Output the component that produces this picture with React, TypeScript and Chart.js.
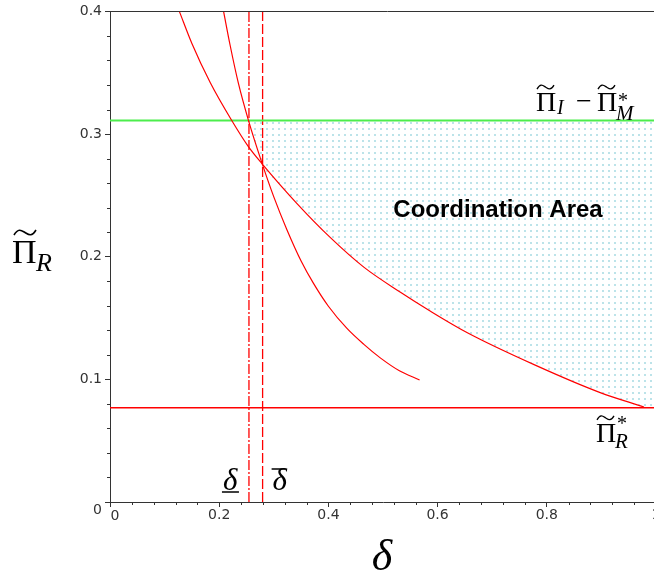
import React, { useEffect, useRef } from 'react';
import { Chart, registerables } from 'chart.js';

Chart.register(...registerables);

// ---- data ----
const xMajorTicks = [0, 0.2, 0.4, 0.6, 0.8, 1];
const yMajorTicks = [0, 0.1, 0.2, 0.3, 0.4];
const xMinorTicks = [0.04, 0.08, 0.12, 0.16, 0.24, 0.28, 0.32, 0.36, 0.44, 0.48, 0.52, 0.56, 0.64, 0.68, 0.72, 0.76, 0.84, 0.88, 0.92, 0.96];
const yMinorTicks = [0.02, 0.04, 0.06, 0.08, 0.12, 0.14, 0.16, 0.18, 0.22, 0.24, 0.26, 0.28, 0.32, 0.34, 0.36, 0.38];

// steeper curve
const curveAX = [0.208, 0.22, 0.235, 0.2537, 0.279, 0.30, 0.324, 0.35, 0.373, 0.40, 0.434, 0.465, 0.495, 0.53, 0.567];
const curveAY = [0.4, 0.3724, 0.3417, 0.311, 0.2755, 0.2488, 0.222, 0.1965, 0.178, 0.1596, 0.1415, 0.1285, 0.1175, 0.107, 0.0995];

// flatter curve
const curveBX = [0.127, 0.15, 0.1835, 0.223, 0.2538, 0.279, 0.3425, 0.4037, 0.4648, 0.532, 0.587, 0.6545, 0.7767, 0.899, 0.978];
const curveBY = [0.4, 0.3738, 0.342, 0.311, 0.2895, 0.2755, 0.2433, 0.2155, 0.1915, 0.171, 0.1555, 0.138, 0.112, 0.089, 0.0775];

// lower boundary of the coordination area
const areaX = [0.2537, 0.279, 0.3425, 0.4037, 0.4648, 0.532, 0.587, 0.6545, 0.7767, 0.899, 0.978, 1];
const areaY = [0.311, 0.2755, 0.2433, 0.2155, 0.1915, 0.171, 0.1555, 0.138, 0.112, 0.089, 0.0775, 0.0768];

const levelTop = 0.311; // Π̃_I − Π̃*_M
const levelBottom = 0.0768; // Π̃*_R
const deltaLow = 0.2545;
const deltaHigh = 0.2795;

const areaLabel = 'Coordination Area';

const pts = (xs: number[], ys: number[]) => xs.map((x, i) => ({ x, y: ys[i] }));
const fmt = (v: number) => {
  const r = Math.round(v * 10) / 10;
  return r === 0 ? '' : String(r);
};

function drawTilde(ctx: CanvasRenderingContext2D, x0: number, cy: number, w: number, h: number, lw = 1.3) {
  ctx.save();
  ctx.lineWidth = lw;
  ctx.strokeStyle = '#000';
  ctx.beginPath();
  ctx.moveTo(x0, cy + h / 2);
  ctx.bezierCurveTo(x0 + w * 0.2, cy - h, x0 + w * 0.35, cy - h * 0.4, x0 + w * 0.5, cy);
  ctx.bezierCurveTo(x0 + w * 0.65, cy + h * 0.4, x0 + w * 0.8, cy + h, x0 + w, cy - h / 2);
  ctx.stroke();
  ctx.restore();
}

const SERIF = '"Liberation Serif", "DejaVu Serif", serif';

const decor = {
  id: 'decor',
  afterDraw(chart: any) {
    const { ctx, chartArea: ca, scales } = chart;
    const xs = scales.x;
    const ys = scales.y;
    ctx.save();
    // top frame line
    ctx.strokeStyle = '#333';
    ctx.lineWidth = 1;
    ctx.beginPath();
    ctx.moveTo(ca.left, Math.round(ca.top) + 0.5);
    ctx.lineTo(ca.right + 10, Math.round(ca.top) + 0.5);
    ctx.stroke();
    // minor ticks
    ctx.beginPath();
    for (const v of xMinorTicks) {
      const px = Math.round(xs.getPixelForValue(v)) + 0.5;
      ctx.moveTo(px, ca.bottom);
      ctx.lineTo(px, ca.bottom + 3);
    }
    for (const v of yMinorTicks) {
      const py = Math.round(ys.getPixelForValue(v)) + 0.5;
      ctx.moveTo(ca.left, py);
      ctx.lineTo(ca.left - 3, py);
    }
    ctx.stroke();
    // zero labels
    ctx.fillStyle = '#333';
    ctx.font = '14px "DejaVu Sans"';
    ctx.textBaseline = 'middle';
    ctx.textAlign = 'right';
    ctx.fillText('0', ca.left - 8, ys.getPixelForValue(0) + 8);
    ctx.textAlign = 'left';
    ctx.fillText('0', xs.getPixelForValue(0) + 0.5, ca.bottom + 14);

    ctx.fillStyle = '#000';
    ctx.textBaseline = 'alphabetic';
    ctx.textAlign = 'left';

    // label: Π̃_I − Π̃*_M
    const gy = ys.getPixelForValue(levelTop);
    const b1 = gy - 9.5;
    ctx.font = `28px ${SERIF}`;
    ctx.fillText('Π', 536, b1);
    drawTilde(ctx, 537, b1 - 24, 17, 4);
    ctx.font = `italic 20px ${SERIF}`;
    ctx.fillText('I', 557, b1 + 3);
    ctx.font = `28px ${SERIF}`;
    ctx.fillText('−', 576, b1 - 1);
    ctx.fillText('Π', 597, b1);
    drawTilde(ctx, 598, b1 - 24, 17, 4);
    ctx.font = `20px ${SERIF}`;
    ctx.fillText('*', 618, b1 - 4);
    ctx.font = `italic 21px ${SERIF}`;
    ctx.fillText('M', 616, b1 + 9);

    // label: Π̃*_R
    const ry = ys.getPixelForValue(levelBottom);
    const b2 = ry + 34;
    ctx.font = `28px ${SERIF}`;
    ctx.fillText('Π', 596, b2);
    drawTilde(ctx, 597, b2 - 24, 17, 4);
    ctx.font = `20px ${SERIF}`;
    ctx.fillText('*', 617, b2 - 12);
    ctx.font = `italic 21px ${SERIF}`;
    ctx.fillText('R', 615, b2 + 6);

    // δ underlined / overlined
    const dl = xs.getPixelForValue(deltaLow);
    const dh = xs.getPixelForValue(deltaHigh);
    ctx.font = `italic 31px ${SERIF}`;
    ctx.fillText('δ', dl - 26, ca.bottom - 12);
    ctx.fillText('δ', dh + 10, ca.bottom - 12);
    ctx.lineWidth = 1.6;
    ctx.strokeStyle = '#000';
    ctx.beginPath();
    ctx.moveTo(dl - 27, ca.bottom - 10);
    ctx.lineTo(dl - 10, ca.bottom - 10);
    ctx.moveTo(dh + 9, ca.bottom - 33);
    ctx.lineTo(dh + 23, ca.bottom - 33);
    ctx.stroke();

    // y-axis title Π̃_R
    ctx.font = `34px ${SERIF}`;
    ctx.fillText('Π', 12, 263);
    drawTilde(ctx, 14, 232.5, 22, 5, 1.6);
    ctx.font = `italic 26px ${SERIF}`;
    ctx.fillText('R', 36, 271);

    // x-axis title δ
    ctx.font = `italic 44px ${SERIF}`;
    ctx.textAlign = 'center';
    ctx.fillText('δ', 382, 570);

    // area label
    ctx.font = 'bold 24px "Liberation Sans", Arial, sans-serif';
    ctx.textAlign = 'center';
    ctx.fillText(areaLabel, 498, 217);
    ctx.restore();
  },
};

export default function App() {
  const ref = useRef<HTMLCanvasElement>(null);
  useEffect(() => {
    const canvas = ref.current!;
    const ctx = canvas.getContext('2d')!;
    const pc = document.createElement('canvas');
    pc.width = 6;
    pc.height = 6;
    const p = pc.getContext('2d')!;
    p.fillStyle = 'rgba(165,218,226,0.75)';
    p.fillRect(2, 2, 2, 2);
    const pattern = ctx.createPattern(pc, 'repeat')!;

    const red = '#ff0000';
    const chart = new Chart(ctx, {
      type: 'scatter',
      data: {
        datasets: [
          {
            label: 'area',
            data: pts(areaX, areaY),
            showLine: true,
            borderWidth: 0,
            borderColor: 'transparent',
            pointRadius: 0,
            cubicInterpolationMode: 'monotone',
            backgroundColor: pattern as any,
            fill: { target: { value: levelTop }, above: pattern as any, below: pattern as any },
            order: 10,
          } as any,
          { label: 'A', data: pts(curveAX, curveAY), showLine: true, borderColor: red, borderWidth: 1.2, pointRadius: 0, cubicInterpolationMode: 'monotone' },
          { label: 'B', data: pts(curveBX, curveBY), showLine: true, borderColor: red, borderWidth: 1.2, pointRadius: 0, cubicInterpolationMode: 'monotone' },
          { label: 'top', data: pts([0, 1], [levelTop, levelTop]), showLine: true, borderColor: '#4ced4c', borderWidth: 2, pointRadius: 0 },
          { label: 'bottom', data: pts([0, 1], [levelBottom, levelBottom]), showLine: true, borderColor: red, borderWidth: 1.5, pointRadius: 0 },
          { label: 'dlow', data: pts([deltaLow, deltaLow], [0, 0.4]), showLine: true, borderColor: red, borderWidth: 1.3, borderDash: [10, 2, 2, 2], pointRadius: 0 },
          { label: 'dhigh', data: pts([deltaHigh, deltaHigh], [0, 0.4]), showLine: true, borderColor: red, borderWidth: 1.3, borderDash: [10, 3], pointRadius: 0 },
        ],
      },
      options: {
        animation: false,
        responsive: false,
        events: [],
        layout: { padding: { top: 9, right: 8, left: 0, bottom: 0 } },
        plugins: { legend: { display: false }, tooltip: { enabled: false } },
        scales: {
          x: {
            type: 'linear',
            min: xMajorTicks[0],
            max: xMajorTicks[xMajorTicks.length - 1],
            afterFit: (s: any) => { s.height = 78; },
            afterBuildTicks: (s: any) => { s.ticks = xMajorTicks.map((v) => ({ value: v })); },
            ticks: { callback: (v: any) => fmt(Number(v)), autoSkip: false, maxRotation: 0, padding: 0, color: '#333', font: { family: 'DejaVu Sans', size: 14 } },
            grid: { drawOnChartArea: false, tickLength: 5, tickColor: '#333', color: '#333' },
            border: { display: true, color: '#333', width: 1 },
          },
          y: {
            type: 'linear',
            min: yMajorTicks[0],
            max: yMajorTicks[yMajorTicks.length - 1],
            afterFit: (s: any) => { s.width = 110; },
            afterBuildTicks: (s: any) => { s.ticks = yMajorTicks.map((v) => ({ value: v })); },
            ticks: { callback: (v: any) => fmt(Number(v)), autoSkip: false, padding: 3, color: '#333', font: { family: 'DejaVu Sans', size: 14 } },
            grid: { drawOnChartArea: false, tickLength: 5, tickColor: '#333', color: '#333' },
            border: { display: true, color: '#333', width: 1 },
          },
        },
      },
      plugins: [decor],
    });
    return () => chart.destroy();
  }, []);

  return (
    <div style={{ position: 'absolute', left: 0, top: 0, width: 654, height: 580, overflow: 'hidden', background: '#fff' }}>
      <canvas ref={ref} width={664} height={580} style={{ width: 664, height: 580, display: 'block' }} />
    </div>
  );
}
